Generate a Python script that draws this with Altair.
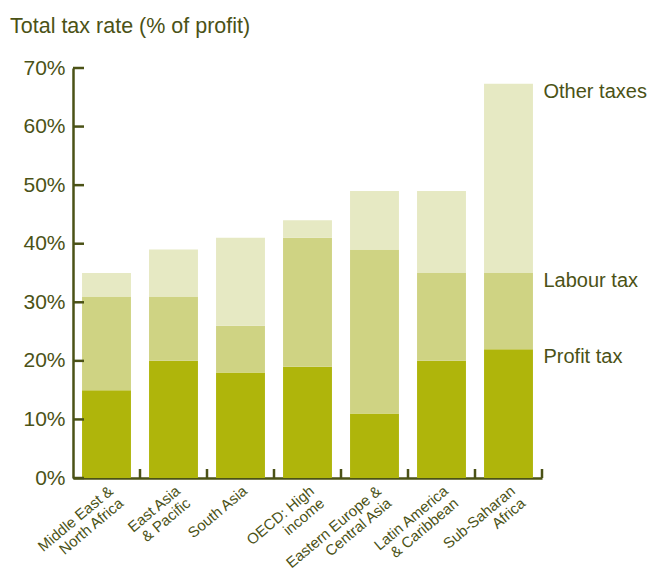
import altair as alt
import pandas as pd

categories = [
    "Middle East &\nNorth Africa",
    "East Asia\n& Pacific",
    "South Asia",
    "OECD: High\nincome",
    "Eastern Europe &\nCentral Asia",
    "Latin America\n& Caribbean",
    "Sub-Saharan\nAfrica",
]
series = ["Profit tax", "Labour tax", "Other taxes"]
profit_tax = [15, 20, 18, 19, 11, 20, 22]
labour_tax = [16, 11, 8, 22, 28, 15, 13]
other_taxes = [4, 8, 15, 3, 10, 14, 32.3]
y_ticks = [0, 10, 20, 30, 40, 50, 60, 70]
colors = ["#afb50b", "#cfd383", "#e6e9c3"]
ink = "#4b5216"

rows = []
for i, c in enumerate(categories):
    for s, vals in zip(series, [profit_tax, labour_tax, other_taxes]):
        rows.append({"category": c, "series": s, "value": vals[i], "order": series.index(s)})
df = pd.DataFrame(rows)

last = df[df["category"] == categories[-1]].sort_values("order").copy()
last["top"] = last["value"].cumsum()

W, H = 469, 410
FONT = "Liberation Sans"
xscale = alt.Scale(domain=categories, paddingInner=0.27, paddingOuter=0.135)
yscale = alt.Scale(domain=[0, 70], nice=False)

bars = alt.Chart(df).mark_bar().encode(
    x=alt.X("category:N", scale=xscale, sort=categories, title=None,
            axis=alt.Axis(labelAngle=-40, labelAlign="right", labelBaseline="top",
                          labelFontSize=15, labelColor=ink, labelFont=FONT,
                          labelExpr="split(datum.label, '\\n')", labelLineHeight=16,
                          labelPadding=5, labelOffset=0, tickSize=0, domainColor=ink,
                          domainWidth=2.5, labelLimit=300, labelOverlap=False)),
    y=alt.Y("value:Q", stack="zero", scale=yscale, title=None,
            axis=alt.Axis(values=y_ticks, labelExpr="datum.value + '%'", labelFontSize=21,
                          labelColor=ink, labelFont=FONT, tickSize=0,
                          labelPadding=8, domainColor=ink, domainWidth=2.5, grid=False)),
    color=alt.Color("series:N", scale=alt.Scale(domain=series, range=colors), legend=None),
    order=alt.Order("order:Q"),
)

ytick_df = pd.DataFrame({"v": y_ticks})
yticks = alt.Chart(ytick_df).mark_rule(color=ink, strokeWidth=2.5).encode(
    y=alt.Y("v:Q", scale=yscale),
    x=alt.value(0), x2=alt.value(11),
)

xtick_df = pd.DataFrame({"category": categories})
xticks = alt.Chart(xtick_df).mark_rule(color=ink, strokeWidth=2.5, xOffset=W / 7 / 2).encode(
    x=alt.X("category:N", scale=xscale, sort=categories),
    y=alt.value(H), y2=alt.value(H - 9),
)

labels = alt.Chart(last).mark_text(align="left", baseline="top", dx=35, dy=-2,
                                   fontSize=20, color=ink, font=FONT).encode(
    x=alt.X("category:N", scale=xscale, sort=categories),
    y=alt.Y("top:Q", scale=yscale),
    text="series:N",
)

chart = alt.layer(bars, yticks, xticks, labels).properties(
    width=W, height=H,
    title=alt.TitleParams("Total tax rate (% of profit)", anchor="start", frame="group",
                          dx=-63, fontSize=21.5, fontWeight="normal", color=ink,
                          font=FONT, offset=20),
    autosize=alt.AutoSizeParams(type="none"),
    padding={"left": 65, "top": 60, "right": 105, "bottom": 95},
).configure_view(stroke=None)

chart.save("out.html", embed_options={"renderer": "svg", "actions": False})
